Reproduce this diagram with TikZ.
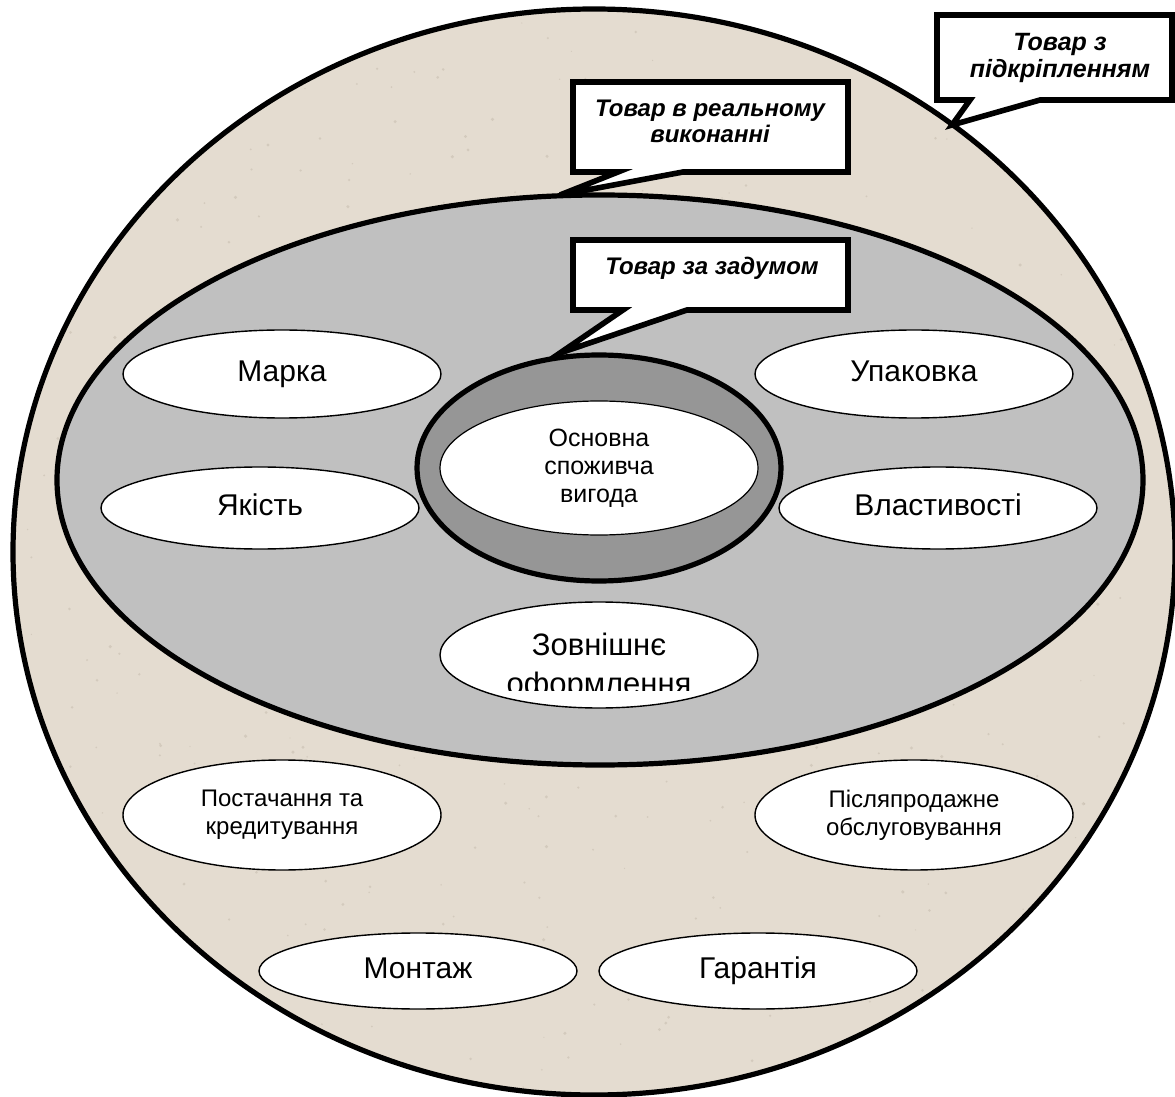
\documentclass[tikz,border=0pt]{standalone}
\usepackage{fontspec}
\setmainfont{Liberation Sans}
\usetikzlibrary{shapes.geometric}
\definecolor{beige}{HTML}{E4DCD0}
\definecolor{speckc}{HTML}{C9BFB1}
\definecolor{midgrey}{HTML}{C0C0C0}
\definecolor{ringgrey}{HTML}{969696}
\tikzset{
  bigell/.style={ellipse, draw=black, line width=2.6pt, inner sep=0pt},
  smallell/.style={ellipse, draw=black, fill=white, line width=0.7pt, inner sep=0pt,
     minimum width=159pt, minimum height=43pt},
  bigtxt/.style={font=\fontsize{15pt}{18pt}\selectfont, text height=10.5pt, text depth=3pt},
  smalltxt/.style={font=\fontsize{12pt}{14pt}\selectfont, align=center},
  calltxt/.style={font=\fontsize{12pt}{13pt}\selectfont\bfseries\itshape, align=center},
  callout/.style={draw=black, fill=white, line width=2.8pt, line join=miter},
  speck/.style={fill=speckc, opacity=0.6},
}
\begin{document}
\begin{tikzpicture}[x=0.5pt,y=-0.5pt]
\useasboundingbox (0,0) rectangle (1175,1097);
\begin{scope}
\clip (0,0) rectangle (1175,1097);
% outer ellipse
\node[bigell, fill=beige, minimum width=581pt, minimum height=543pt] (outer) at (594,552) {};
\begin{scope}
\clip (594,552) ellipse [x radius=578, y radius=540];
\pgfmathsetseed{11}
\foreach \i in {1,...,700} {
  \fill[speck] ({rnd*1175},{rnd*1097}) circle [radius={0.6+rnd*1.2}];
}
\end{scope}
% middle ellipse
\node[bigell, fill=midgrey, minimum width=543pt, minimum height=285pt] (middle) at (600,480) {};
% ring
\node[bigell, fill=ringgrey, minimum width=182pt, minimum height=113pt] (ring) at (599,468) {};
\node[ellipse, draw=black, fill=white, line width=0.6pt, inner sep=0pt,
      minimum width=159pt, minimum height=67pt,
      font=\fontsize{12.5pt}{14pt}\selectfont, align=center] (core) at (599,468)
      {Основна\\споживча\\вигода};
% small ellipses in middle
\node[smallell, bigtxt, minimum height=44pt] (marka) at (282,374) {Марка};
\node[smallell, bigtxt, minimum height=44pt] (upak) at (914,374) {Упаковка};
\node[smallell, bigtxt, minimum height=41pt] (yakist) at (260,508) {Якість};
\node[smallell, bigtxt, minimum height=41pt] (vlast) at (938,508) {Властивості};
\node[smallell, minimum height=53pt] (zov) at (599,655) {};
\begin{scope}
\clip (440,590) rectangle (760,690);
\node[anchor=base, font=\fontsize{15.5pt}{19pt}\selectfont] (zovA) at (599,655) {Зовнішнє};
\node[anchor=base, font=\fontsize{15.5pt}{19pt}\selectfont] (zovB) at (599,694) {оформлення};
\end{scope}
% outer small ellipses
\node[smallell, smalltxt, minimum height=55pt] (post) at (282,815) {Постачання та\\кредитування};
\node[smallell, smalltxt, minimum height=55pt] (pisl) at (914,815) {Післяпродажне\\обслуговування};
\node[smallell, bigtxt, minimum height=38pt] (mont) at (418,971) {Монтаж};
\node[smallell, bigtxt, minimum height=38pt] (garant) at (758,971) {Гарантія};
% callouts
\coordinate (t1) at (952,125);
\coordinate (t2) at (560,195);
\coordinate (t3) at (560,353);
\draw[callout] (937,15) -- (1172,15) -- (1172,100) -- (1040,100) -- (t1) -- (970,100) -- (937,100) -- cycle;
\node[calltxt, font=\fontsize{12.5pt}{13.5pt}\selectfont\bfseries\itshape] (c1) at (1060,58) {Товар з\\підкріпленням};
\draw[callout] (573,82) -- (848,82) -- (848,172) -- (683,172) -- (t2) -- (618,172) -- (573,172) -- cycle;
\node[calltxt] (c2) at (710,121) {Товар в реальному\\виконанні};
\draw[callout] (573,240) -- (848,240) -- (848,310) -- (687,310) -- (t3) -- (623,310) -- (573,310) -- cycle;
\node[calltxt] (c3) at (712,268) {Товар за задумом};
\end{scope}
\end{tikzpicture}
\end{document}
